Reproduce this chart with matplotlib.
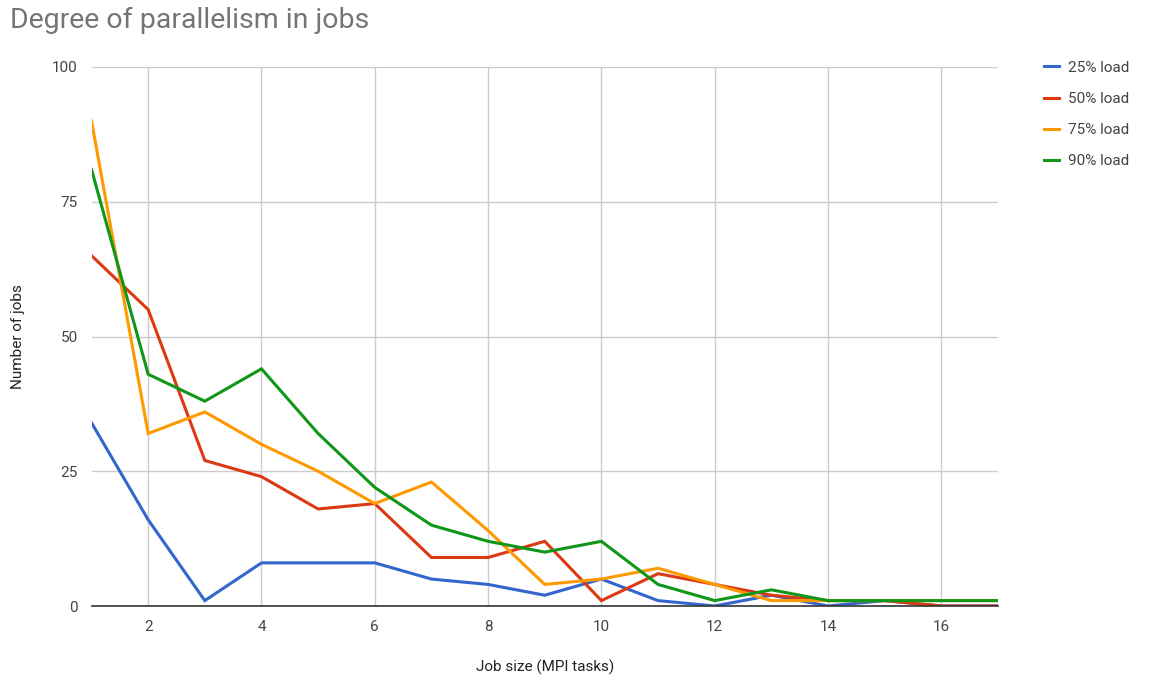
import matplotlib.pyplot as plt

plt.rcParams['font.family'] = ['Roboto', 'DejaVu Sans']

# Rozmiar zadania (liczba zadań MPI)
job_size = list(range(1, 18))

load_25 = [34, 16, 1, 8, 8, 8, 5, 4, 2, 5, 1, 0, 2, 0, 1, 0, 0]
load_50 = [65, 55, 27, 24, 18, 19, 9, 9, 12, 1, 6, 4, 2, 1, 1, 0, 0]
load_75 = [90, 32, 36, 30, 25, 19, 23, 14, 4, 5, 7, 4, 1, 1, 1, 1, 1]
load_90 = [81, 43, 38, 44, 32, 22, 15, 12, 10, 12, 4, 1, 3, 1, 1, 1, 1]

series = [
    ('25% load', load_25, '#3366cc'),
    ('50% load', load_50, '#dc3912'),
    ('75% load', load_75, '#ff9900'),
    ('90% load', load_90, '#109618'),
]

fig = plt.figure(figsize=(11.53, 6.82), dpi=100)
ax = fig.add_axes([91.5 / 1153, 1 - 606 / 682, (998 - 91.5) / 1153, (606 - 67) / 682])

for label, vals, color in series:
    ax.plot(job_size, vals, color=color, lw=2.2, label=label, solid_joinstyle='miter')

ax.set_xlim(1, 17)
ax.set_ylim(0, 100)
ax.set_xticks(range(2, 17, 2))
ax.set_yticks([0, 25, 50, 75, 100])
ax.grid(True, color='#cccccc', lw=1)
ax.set_axisbelow(True)
for s in ['top', 'right', 'left']:
    ax.spines[s].set_visible(False)
ax.spines['bottom'].set_color('#333333')
ax.spines['bottom'].set_linewidth(1.2)
ax.tick_params(length=0, labelsize=11, colors='#444444', pad=10)

ax.set_xlabel('Job size (MPI tasks)', fontsize=11, color='#222222')
ax.xaxis.set_label_coords(0.5, -(660 - 606) / (606 - 67), transform=ax.transAxes)
ax.yaxis.set_label_coords(-(91.5 - 25) / (998 - 91.5), 0.5, transform=ax.transAxes)
ax.set_ylabel('Number of jobs', fontsize=11, color='#222222')

fig.text(10 / 1153, 1 - 20 / 682, 'Degree of parallelism in jobs', fontsize=20.5,
         color='#757575', va='center', ha='left')

ax.legend(loc='upper left', bbox_to_anchor=(1030 / 1153, 1 - 47 / 682),
          bbox_transform=fig.transFigure, frameon=False, fontsize=11,
          handlelength=1.0, handletextpad=0.6, labelspacing=1.12,
          labelcolor='#444444')

plt.savefig('out.png', dpi=100)
